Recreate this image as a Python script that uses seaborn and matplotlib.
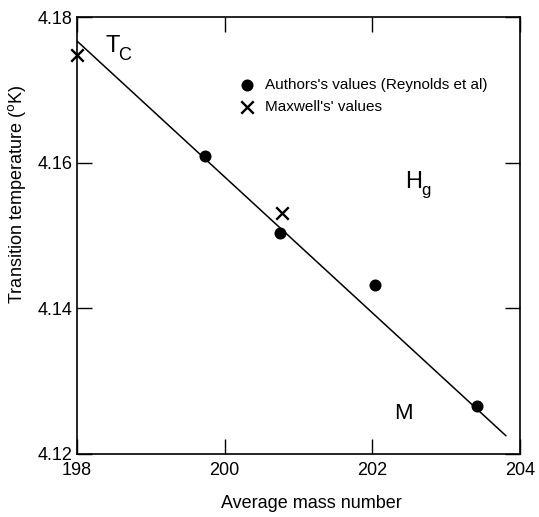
import matplotlib
matplotlib.use("Agg")
import matplotlib.pyplot as plt
import seaborn as sns
import pandas as pd

# Measured transition temperatures of mercury isotopes
authors_mass = [199.73, 200.75, 202.04, 203.42]
authors_tc = [4.1609, 4.1503, 4.1432, 4.1266]
maxwell_mass = [198.0, 200.78]
maxwell_tc = [4.1748, 4.1531]

# Straight-line fit through the data
fit_mass = [198.0, 203.81]
fit_tc = [4.1767, 4.1225]

x_ticks = [198, 200, 202, 204]
y_ticks = [4.12, 4.14, 4.16, 4.18]
y_tick_labels = ["4.12", "4.14", "4.16", "4.18"]

sns.set_style("ticks")
plt.rcParams["font.family"] = ["Liberation Sans", "DejaVu Sans"]
plt.rcParams["text.color"] = "black"
plt.rcParams["axes.labelcolor"] = "black"
plt.rcParams["xtick.color"] = "black"
plt.rcParams["ytick.color"] = "black"

fig = plt.figure(figsize=(5.39, 5.17), dpi=100)
ax = fig.add_axes([77 / 539, 1 - 454 / 517, 443 / 539, 437 / 517])

authors = pd.DataFrame({"mass": authors_mass, "tc": authors_tc})
maxwell = pd.DataFrame({"mass": maxwell_mass, "tc": maxwell_tc})
fit = pd.DataFrame({"mass": fit_mass, "tc": fit_tc})

sns.lineplot(data=fit, x="mass", y="tc", ax=ax, color="black", lw=1.1)
sns.scatterplot(data=authors, x="mass", y="tc", ax=ax, color="black",
                marker="o", s=75, edgecolor="black", linewidth=0,
                label="Authors's values (Reynolds et al)", zorder=3,
                clip_on=False)
sns.scatterplot(data=maxwell, x="mass", y="tc", ax=ax, color="black",
                marker="x", s=80, linewidth=1.7,
                label="Maxwell's' values", zorder=3, clip_on=False)

ax.set_xlim(198, 204)
ax.set_ylim(4.12, 4.18)
ax.set_xticks(x_ticks)
ax.set_yticks(y_ticks)
ax.set_yticklabels(y_tick_labels)
ax.tick_params(direction="in", length=11, width=1.0, labelsize=13,
               top=True, right=True)
ax.tick_params(axis="x", pad=6)
ax.tick_params(axis="y", pad=3)
for sp in ax.spines.values():
    sp.set_linewidth(1.2)
    sp.set_color("black")

ax.set_xlabel("Average mass number", fontsize=13)
ax.set_ylabel("Transition temperature ($^{\\rm o}$K)", fontsize=13)
ax.yaxis.set_label_coords(-0.11, 0.595)
ax.xaxis.set_label_coords(0.53, -0.093)

# Symbol annotations
ax.text(198.38, 4.1752, "T", fontsize=17, ha="left", va="baseline")
ax.text(198.56, 4.1741, "C", fontsize=13, ha="left", va="baseline")
ax.text(202.45, 4.1565, "H", fontsize=17, ha="left", va="baseline")
ax.text(202.66, 4.1556, "g", fontsize=12, ha="left", va="baseline")
ax.text(202.30, 4.1248, "M", fontsize=16, ha="left", va="baseline")

leg = ax.legend(loc="upper left", bbox_to_anchor=(0.3666, 0.860), frameon=False,
                fontsize=11, handlelength=1.0, handletextpad=0.67,
                labelspacing=0.5, borderpad=0, borderaxespad=0, markerscale=1.0)

fig.savefig("out.png", dpi=100)
